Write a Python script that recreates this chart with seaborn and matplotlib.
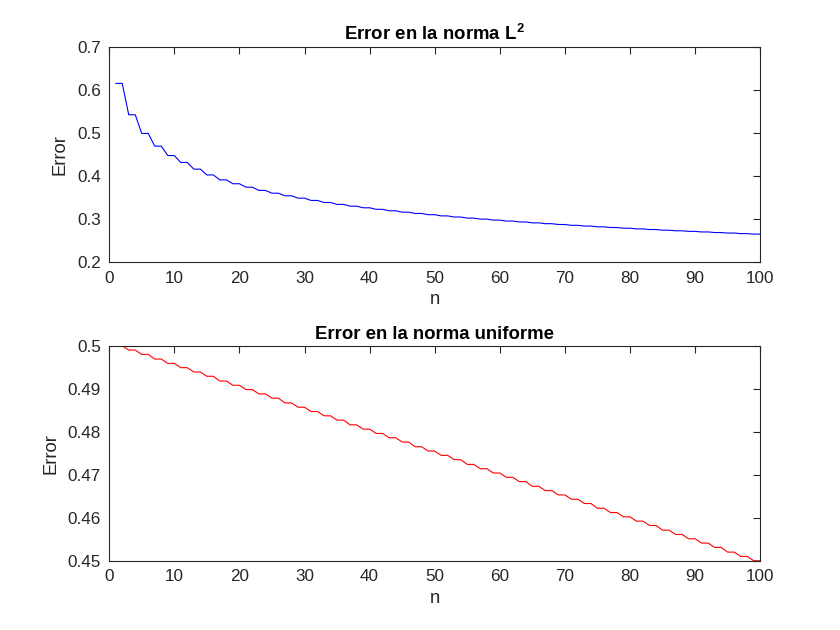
import numpy as np
import pandas as pd
import seaborn as sns
import matplotlib
matplotlib.use('Agg')
import matplotlib.pyplot as plt
from matplotlib.ticker import FormatStrFormatter, MultipleLocator

# n = 1..100
n = list(range(1, 101))

# error en la norma L2 (values come in equal pairs)
err_l2 = [
    0.6160, 0.6160, 0.5430, 0.5430, 0.4995, 0.4995, 0.4700, 0.4700, 0.4480, 0.4480,
    0.4320, 0.4320, 0.4165, 0.4165, 0.4030, 0.4030, 0.3915, 0.3915, 0.3825, 0.3825,
    0.3745, 0.3745, 0.3670, 0.3670, 0.3605, 0.3605, 0.3545, 0.3545, 0.3490, 0.3490,
    0.3437, 0.3437, 0.3389, 0.3389, 0.3345, 0.3345, 0.3304, 0.3304, 0.3266, 0.3266,
    0.3230, 0.3230, 0.3196, 0.3196, 0.3164, 0.3164, 0.3134, 0.3134, 0.3105, 0.3105,
    0.3077, 0.3077, 0.3051, 0.3051, 0.3026, 0.3026, 0.3002, 0.3002, 0.2979, 0.2979,
    0.2957, 0.2957, 0.2936, 0.2936, 0.2915, 0.2915, 0.2896, 0.2896, 0.2877, 0.2877,
    0.2858, 0.2858, 0.2841, 0.2841, 0.2823, 0.2823, 0.2807, 0.2807, 0.2791, 0.2791,
    0.2775, 0.2775, 0.2760, 0.2760, 0.2745, 0.2745, 0.2731, 0.2731, 0.2717, 0.2717,
    0.2704, 0.2704, 0.2690, 0.2690, 0.2678, 0.2678, 0.2665, 0.2665, 0.2653, 0.2653,
]

# error en la norma uniforme
err_unif = [
    0.5000, 0.5000, 0.4990, 0.4990, 0.4980, 0.4980, 0.4969, 0.4969, 0.4959, 0.4959,
    0.4949, 0.4949, 0.4939, 0.4939, 0.4929, 0.4929, 0.4918, 0.4918, 0.4908, 0.4908,
    0.4898, 0.4898, 0.4888, 0.4888, 0.4878, 0.4878, 0.4867, 0.4867, 0.4857, 0.4857,
    0.4847, 0.4847, 0.4837, 0.4837, 0.4827, 0.4827, 0.4816, 0.4816, 0.4806, 0.4806,
    0.4796, 0.4796, 0.4786, 0.4786, 0.4776, 0.4776, 0.4765, 0.4765, 0.4755, 0.4755,
    0.4745, 0.4745, 0.4735, 0.4735, 0.4724, 0.4724, 0.4714, 0.4714, 0.4704, 0.4704,
    0.4694, 0.4694, 0.4684, 0.4684, 0.4673, 0.4673, 0.4663, 0.4663, 0.4653, 0.4653,
    0.4643, 0.4643, 0.4633, 0.4633, 0.4622, 0.4622, 0.4612, 0.4612, 0.4602, 0.4602,
    0.4592, 0.4592, 0.4582, 0.4582, 0.4571, 0.4571, 0.4561, 0.4561, 0.4551, 0.4551,
    0.4541, 0.4541, 0.4531, 0.4531, 0.4520, 0.4520, 0.4510, 0.4510, 0.4500, 0.4500,
]

titles = [r'Error en la norma L$^{\mathbf{2}}$', 'Error en la norma uniforme']

sns.set_theme(style='white')
plt.rcParams['font.family'] = ['Liberation Sans', 'DejaVu Sans']
plt.rcParams['mathtext.fontset'] = 'custom'
plt.rcParams['mathtext.rm'] = 'Liberation Sans'
plt.rcParams['mathtext.bf'] = 'Liberation Sans:bold'

df = pd.DataFrame({'n': n, 'l2': err_l2, 'unif': err_unif})

fig = plt.figure(figsize=(8.4, 6.3), dpi=100)
ax1 = fig.add_axes([0.13, 0.5838, 0.775, 0.3412])
ax2 = fig.add_axes([0.13, 0.11, 0.775, 0.3412])

sns.lineplot(data=df, x='n', y='l2', ax=ax1, color=(0, 0, 1), linewidth=0.8)
sns.lineplot(data=df, x='n', y='unif', ax=ax2, color=(1, 0, 0), linewidth=0.8)

dark = '#262626'
for ax, ttl, lims, step in [(ax1, titles[0], (0.2, 0.7), 0.1),
                            (ax2, titles[1], (0.45, 0.5), 0.01)]:
    ax.set_xlim(0, 100)
    ax.set_ylim(*lims)
    ax.xaxis.set_major_locator(MultipleLocator(10))
    ax.yaxis.set_major_locator(MultipleLocator(step))
    ax.yaxis.set_major_formatter(FormatStrFormatter('%g'))
    ax.tick_params(direction='in', length=5, width=0.8, colors=dark,
                   labelsize=12.3, top=True, right=True, pad=6)
    for s in ax.spines.values():
        s.set_color(dark)
        s.set_linewidth(0.8)
    ax.set_title(ttl, fontsize=13.4, fontweight='bold', color='black', pad=5)
    ax.set_xlabel('n', fontsize=13.3, color=dark, labelpad=4)
    ax.set_ylabel('Error', fontsize=13.3, color=dark, labelpad=6)

fig.savefig('out.png', dpi=100, facecolor='white')
